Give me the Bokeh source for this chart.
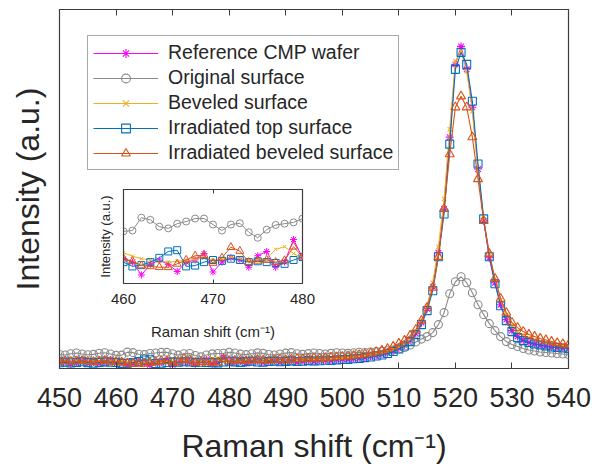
from bokeh.plotting import figure
from bokeh.models import Range1d, FixedTicker, LinearAxis
from bokeh.layouts import column
from bokeh.embed import file_html
from bokeh.resources import INLINE

# ---------------- data ----------------
raman_shift = list(range(450, 541))  # cm^-1, 1 cm^-1 sampling

reference_cmp = [
    5.5, 6.8, 4.6, 6.0, 7.2, 5.4, 6.5, 4.9, 6.3, 7.0,
    6.8, 6.0, 3.0, 5.5, 6.5, 5.5, 3.8, 6.0, 6.5, 8.0,
    3.7, 6.0, 7.0, 6.5, 4.8, 7.5, 8.5, 4.8, 6.0, 11.3,
    7.0, 6.2, 7.5, 5.8, 6.9, 7.8, 6.0, 7.2, 8.1, 6.5,
    7.4, 8.0, 6.8, 7.7, 8.4, 7.1, 8.2, 8.8, 7.9, 8.9,
    9.4, 9.6, 10.1, 10.8, 11.3, 12.2, 13.1, 14.3, 15.8, 17.8,
    20.5, 23.5, 28.5, 35, 46, 60, 82, 116, 160, 232,
    305, 323, 300, 262, 200, 148, 111, 86, 64, 49,
    38, 32, 28.5, 26, 24.5, 23.5, 22.5, 21.5, 21, 20.5,
    20]

original_surface = [
    14.0, 13.5, 14.8, 15.5, 14.6, 13.8, 14.2, 15.3, 15.8, 14.5,
    13.2, 13.4, 16.4, 15.9, 14.3, 13.9, 15.0, 15.5, 16.2, 16.2,
    14.8, 13.4, 14.8, 15.1, 13.0, 11.7, 13.6, 14.7, 15.0, 15.3,
    16.2, 15.6, 14.4, 13.9, 14.8, 15.7, 15.2, 14.1, 13.6, 14.5,
    15.4, 15.9, 14.8, 14.2, 14.9, 15.6, 15.1, 14.6, 15.2, 15.8,
    15.5, 15.2, 15.8, 16.3, 16.0, 16.5, 17.0, 17.3, 17.8, 18.5,
    19.5, 21, 23.5, 26.5, 29.5, 32, 36, 44, 56, 75,
    87, 92, 86, 76, 64, 54, 45, 38, 32, 27,
    24, 22, 20, 18.5, 17.5, 16.5, 16, 15.5, 15, 14.5,
    14]

beveled_surface = [
    6.5, 7.1, 6.2, 7.4, 6.8, 6.0, 6.9, 7.5, 6.6, 7.2,
    8.2, 7.4, 6.8, 6.5, 6.2, 6.0, 6.2, 6.4, 6.6, 7.0,
    6.4, 6.6, 7.2, 6.8, 6.4, 6.6, 6.8, 9.0, 9.6, 8.0,
    7.0, 7.4, 6.9, 7.6, 8.0, 7.2, 7.7, 8.3, 7.6, 8.1,
    8.6, 8.0, 8.5, 9.0, 8.4, 8.9, 9.4, 9.0, 9.6, 10.0,
    10.4, 10.8, 11.3, 11.9, 12.6, 13.4, 14.4, 15.6, 17.2, 19.2,
    22, 25, 30, 37, 48, 63, 86, 122, 170, 240,
    308, 318, 298, 258, 198, 150, 115, 90, 69, 54,
    43, 37, 33, 30.5, 28.5, 27, 26, 25, 24, 23,
    22.5]

irradiated_top = [
    5.8, 6.4, 5.5, 6.1, 6.8, 5.9, 5.2, 6.0, 6.6, 6.2,
    6.0, 5.0, 5.3, 6.0, 7.0, 8.5, 8.8, 5.0, 5.2, 6.0,
    6.5, 6.3, 6.8, 6.5, 6.0, 6.2, 6.0, 5.8, 5.6, 6.5,
    7.2, 6.6, 6.1, 6.9, 7.3, 6.5, 6.2, 7.0, 7.4, 6.8,
    7.1, 7.6, 7.0, 7.3, 7.9, 7.5, 7.8, 8.3, 8.0, 8.6,
    9.0, 9.2, 9.8, 10.2, 10.9, 11.6, 12.5, 13.6, 15.0, 17.0,
    19.5, 22.5, 27, 34, 44, 58, 78, 112, 155, 225,
    300, 317, 305, 268, 205, 150, 112, 85, 63, 48,
    37, 31, 28, 26, 24.5, 23.5, 22.5, 21.5, 21, 20.5,
    20]

irradiated_beveled = [
    7.0, 7.6, 6.8, 7.3, 7.9, 7.1, 6.6, 7.4, 7.9, 7.0,
    6.8, 6.2, 5.2, 5.0, 4.8, 4.8, 5.6, 6.5, 7.5, 7.6,
    5.8, 7.0, 9.5, 8.6, 6.0, 6.3, 6.5, 6.0, 6.4, 9.6,
    7.3, 7.8, 8.4, 7.6, 8.1, 8.8, 8.2, 7.9, 8.6, 9.1,
    8.5, 9.0, 9.6, 9.2, 9.8, 10.3, 9.9, 10.5, 11.0, 11.4,
    11.8, 12.3, 12.9, 13.6, 14.4, 15.4, 16.6, 18.0, 19.8, 22,
    25, 28, 33, 39, 48, 61, 81, 112, 160, 215,
    262, 273, 262, 232, 190, 148, 115, 90, 70, 56,
    46, 41, 37, 34, 32, 30, 28.5, 27, 25.5, 24.5,
    23.5]

series_names = ["Reference CMP wafer", "Original surface", "Beveled surface",
                "Irradiated top surface", "Irradiated beveled surface"]
series_values = [reference_cmp, original_surface, beveled_surface,
                 irradiated_top, irradiated_beveled]
series_colors = ["#FF00FF", "#8A8A8A", "#EDB120", "#0072BD", "#D95319"]
series_markers = ["asterisk", "circle", "x", "square", "triangle"]

main_ticks = [450, 460, 470, 480, 490, 500, 510, 520, 530, 540]
inset_ticks = [460, 470, 480]

FONT = "Liberation Sans"
TXT = "#262626"
FRAME = "#3c3c3c"
marker_sizes = [8, 8, 6, 8, 9]


def hidden_label_axis(ticks, tick_len):
    return LinearAxis(ticker=FixedTicker(ticks=ticks), major_tick_in=tick_len, major_tick_out=0,
                      minor_tick_line_color=None, major_label_text_color=None,
                      major_label_text_font_size="1px", major_label_standoff=0,
                      axis_line_color=FRAME, major_tick_line_color=FRAME)


# ---------------- main plot ----------------
p = figure(width=594, height=466, x_range=Range1d(450, 540), y_range=Range1d(0, 360),
           output_backend="svg", toolbar_location=None,
           min_border_left=59, min_border_right=26, min_border_top=9, min_border_bottom=97)
p.xgrid.visible = False
p.ygrid.visible = False
p.outline_line_color = FRAME
p.outline_line_width = 1.2
p.background_fill_color = "white"
p.border_fill_color = "white"

for name, vals, col, mk, ms in zip(series_names, series_values, series_colors,
                                   series_markers, marker_sizes):
    p.line(raman_shift, vals, line_color=col, line_width=1.1, legend_label=name)
    p.scatter(raman_shift, vals, marker=mk, size=ms, line_color=col, fill_color=None,
              line_width=1.1, legend_label=name)

xa = p.below[0]
xa.ticker = FixedTicker(ticks=main_ticks)
xa.major_tick_in = 6
xa.major_tick_out = 0
xa.minor_tick_line_color = None
xa.axis_line_color = FRAME
xa.major_tick_line_color = FRAME
xa.major_label_text_font = FONT
xa.major_label_text_font_size = "27px"
xa.major_label_text_color = TXT
xa.major_label_standoff = 19
xa.axis_label = "Raman shift (cm\u207b\u00b9)"
xa.axis_label_text_font = FONT
xa.axis_label_text_font_size = "32px"
xa.axis_label_text_font_style = "normal"
xa.axis_label_text_color = TXT
xa.axis_label_standoff = 18

ya = p.left[0]
ya.ticker = FixedTicker(ticks=[])
ya.major_tick_out = 0
ya.major_tick_in = 0
ya.minor_tick_line_color = None
ya.axis_line_color = FRAME
ya.major_label_text_color = None
ya.axis_label = "Intensity (a.u.)"
ya.axis_label_text_font = FONT
ya.axis_label_text_font_size = "32px"
ya.axis_label_text_font_style = "normal"
ya.axis_label_text_color = TXT
ya.axis_label_standoff = 14

p.add_layout(hidden_label_axis(main_ticks, 6), "above")

lg = p.legend[0]
lg.location = (28, 198)
lg.label_text_font = FONT
lg.label_text_font_size = "19.5px"
lg.label_text_color = TXT
lg.glyph_width = 65
lg.glyph_height = 22
lg.label_height = 22
lg.spacing = 2
lg.padding = 5
lg.margin = 0
lg.label_standoff = 10
lg.border_line_color = "#555555"
lg.border_line_width = 1
lg.background_fill_color = "white"
lg.background_fill_alpha = 1

# ---------------- inset ----------------
# (a column aligns the side borders of its plots, so the inset uses the same side borders)
q = figure(width=264, height=164, x_range=Range1d(460, 480), y_range=Range1d(1, 23),
           output_backend="svg", toolbar_location=None,
           min_border_left=59, min_border_right=26, min_border_top=4, min_border_bottom=66)
q.xgrid.visible = False
q.ygrid.visible = False
q.outline_line_color = FRAME
q.outline_line_width = 1.2
q.background_fill_color = "white"
q.border_fill_alpha = 0

for vals, col, mk, ms in zip(series_values, series_colors, series_markers, marker_sizes):
    q.line(raman_shift, vals, line_color=col, line_width=1.0)
    q.scatter(raman_shift, vals, marker=mk, size=ms - 1, line_color=col, fill_color=None,
              line_width=1.0)

qx = q.below[0]
qx.ticker = FixedTicker(ticks=inset_ticks)
qx.major_tick_in = 4
qx.major_tick_out = 0
qx.minor_tick_line_color = None
qx.axis_line_color = FRAME
qx.major_tick_line_color = FRAME
qx.major_label_text_font = FONT
qx.major_label_text_font_size = "15px"
qx.major_label_text_color = TXT
qx.major_label_standoff = 10
qx.axis_label = "Raman shift (cm\u207b\u00b9)"
qx.axis_label_text_font = FONT
qx.axis_label_text_font_size = "15px"
qx.axis_label_text_font_style = "normal"
qx.axis_label_text_color = TXT
qx.axis_label_standoff = 16

qy = q.left[0]
qy.ticker = FixedTicker(ticks=[])
qy.major_tick_out = 0
qy.major_tick_in = 0
qy.minor_tick_line_color = None
qy.axis_line_color = FRAME
qy.major_label_text_color = None
qy.axis_label = "Intensity (a.u.)"
qy.axis_label_text_font = FONT
qy.axis_label_text_font_size = "13px"
qy.axis_label_text_font_style = "normal"
qy.axis_label_text_color = TXT
qy.axis_label_standoff = 11

q.add_layout(hidden_label_axis(inset_ticks, 4), "above")

q.margin = (-281, 0, 0, 64)

layout = column(p, q, spacing=0)

open("out.html", "w").write(file_html(layout, INLINE))
